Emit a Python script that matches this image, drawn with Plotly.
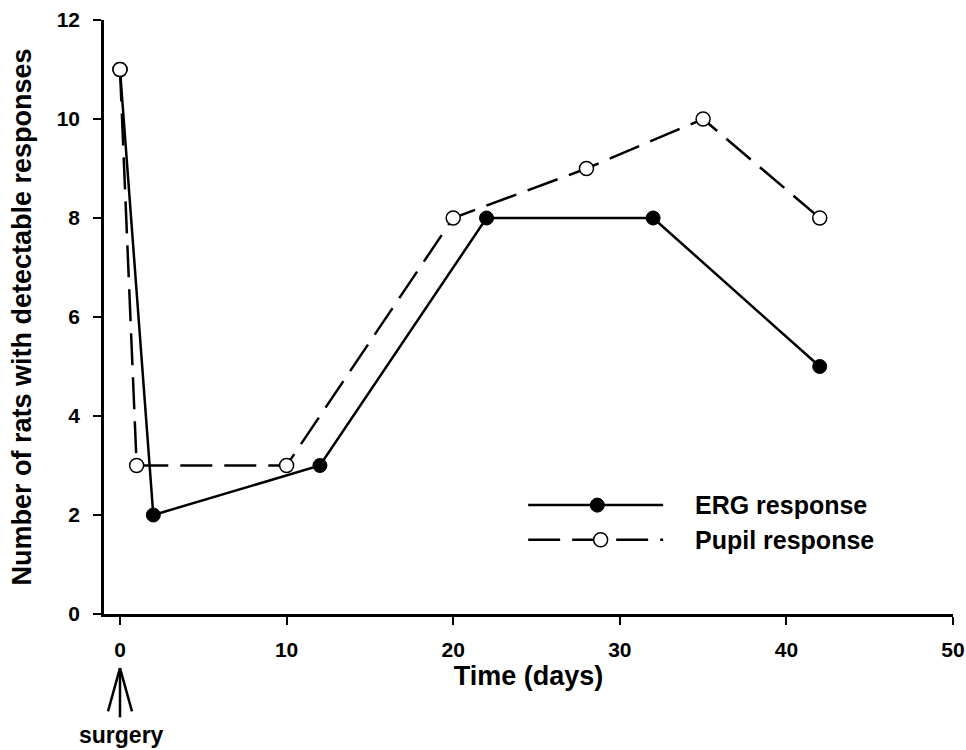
import plotly.graph_objects as go

# Data
erg_days = [0, 2, 12, 22, 32, 42]
erg_counts = [11, 2, 3, 8, 8, 5]
pupil_days = [0, 1, 10, 20, 28, 35, 42]
pupil_counts = [11, 3, 3, 8, 9, 10, 8]
x_ticks = [0, 10, 20, 30, 40, 50]
y_ticks = [0, 2, 4, 6, 8, 10, 12]
series_names = ["ERG response", "Pupil response"]

FONT = "Arial, Liberation Sans, Helvetica, sans-serif"

fig = go.Figure()
fig.add_trace(go.Scatter(
    x=pupil_days, y=pupil_counts, mode="lines+markers", name=series_names[1],
    line=dict(color="black", width=2.5, dash="32px,12px"),
    marker=dict(symbol="circle", size=14, color="white", line=dict(color="black", width=1.5)),
    showlegend=False, cliponaxis=False,
))
fig.add_trace(go.Scatter(
    x=erg_days, y=erg_counts, mode="lines", name=series_names[0],
    line=dict(color="black", width=2.5), showlegend=False, cliponaxis=False,
))
fig.add_trace(go.Scatter(
    x=erg_days[1:], y=erg_counts[1:], mode="markers", name=series_names[0],
    marker=dict(symbol="circle", size=14, color="black", line=dict(color="black", width=1)),
    showlegend=False, cliponaxis=False,
))
# re-draw first open circle on top
fig.add_trace(go.Scatter(
    x=pupil_days[:1], y=pupil_counts[:1], mode="markers",
    marker=dict(symbol="circle", size=14, color="white", line=dict(color="black", width=1.5)),
    showlegend=False, cliponaxis=False, hoverinfo="skip",
))

shapes = []
annotations = []

# Manual legend (drawn in data space of the plot)
leg_x0, leg_x1, leg_xm = 24.5, 32.6, 28.65
leg_rows = [2.2, 1.5]
rx, ry = 0.42, 0.142
shapes.append(dict(type="line", xref="x", yref="y", x0=leg_x0, x1=leg_x1, y0=leg_rows[0], y1=leg_rows[0],
                   line=dict(color="black", width=2.5)))
shapes.append(dict(type="circle", xref="x", yref="y", x0=leg_xm - rx, x1=leg_xm + rx,
                   y0=leg_rows[0] - ry, y1=leg_rows[0] + ry, fillcolor="black", line=dict(color="black", width=1)))
shapes.append(dict(type="line", xref="x", yref="y", x0=leg_x0, x1=leg_x1, y0=leg_rows[1], y1=leg_rows[1],
                   line=dict(color="black", width=2.5, dash="32px,12px")))
shapes.append(dict(type="circle", xref="x", yref="y", x0=leg_xm + 0.2 - rx, x1=leg_xm + 0.2 + rx,
                   y0=leg_rows[1] - ry, y1=leg_rows[1] + ry, fillcolor="white", line=dict(color="black", width=1.5)))
for name, yy in zip(series_names, leg_rows):
    annotations.append(dict(x=34.4, y=yy, xref="x", yref="y", text=name, showarrow=False,
                            xanchor="left", yanchor="middle",
                            font=dict(family=FONT, size=25, color="black", weight="bold")))

# Surgery arrow
tip, shaft_end, side_end = -0.091, -0.174, -0.164
shapes.append(dict(type="line", xref="x", yref="paper", x0=0, x1=0, y0=tip, y1=shaft_end,
                   line=dict(color="black", width=2.5)))
shapes.append(dict(type="line", xref="x", yref="paper", x0=0, x1=-0.72, y0=tip, y1=side_end,
                   line=dict(color="black", width=2.5)))
shapes.append(dict(type="line", xref="x", yref="paper", x0=0, x1=0.72, y0=tip, y1=side_end,
                   line=dict(color="black", width=2.5)))
annotations.append(dict(x=0.1, y=-0.204, xref="x", yref="paper", text="surgery", showarrow=False,
                        xanchor="center", yanchor="middle",
                        font=dict(family=FONT, size=23, color="black", weight="bold")))

fig.update_layout(
    width=966, height=750,
    margin=dict(l=104, r=13, t=20, b=136, autoexpand=False),
    paper_bgcolor="white", plot_bgcolor="white",
    font=dict(family=FONT, color="black"),
    shapes=shapes, annotations=annotations,
    showlegend=False,
)
fig.update_xaxes(
    range=[-0.96, 50], tickvals=x_ticks, ticktext=[str(v) for v in x_ticks],
    showline=True, linecolor="black", linewidth=2.5, ticks="outside", ticklen=8, tickwidth=2,
    tickcolor="black", showgrid=False, zeroline=False, automargin=False,
    tickfont=dict(family=FONT, size=21, color="black", weight="bold"), ticklabelstandoff=7,
    title=dict(text="Time (days)", font=dict(family=FONT, size=27, color="black", weight="bold"), standoff=4),
)
fig.update_yaxes(
    range=[0, 12], tickvals=y_ticks, ticktext=[str(v) for v in y_ticks],
    showline=True, linecolor="black", linewidth=2.5, ticks="outside", ticklen=8, tickwidth=2,
    tickcolor="black", showgrid=False, zeroline=False, automargin=False,
    tickfont=dict(family=FONT, size=21, color="black", weight="bold"), ticklabelstandoff=9,
    title=dict(text="Number of rats with detectable responses",
               font=dict(family=FONT, size=27, color="black", weight="bold"), standoff=18),
)

# remove the page's default body margin so the 966x750 figure fills the window exactly
fig.write_html("out.html", config={"displayModeBar": False},
               post_script="document.body.style.margin='0';document.body.style.overflow='hidden';")
